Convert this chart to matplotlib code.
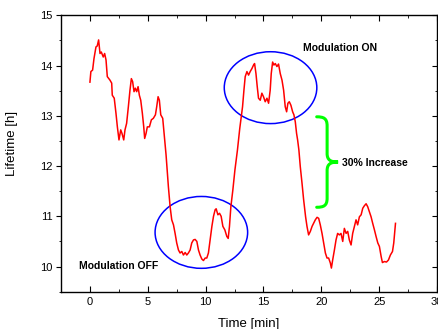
import matplotlib
matplotlib.use('Agg')
import matplotlib.pyplot as plt
from matplotlib.patches import Ellipse, PathPatch
from matplotlib.path import Path
from matplotlib.ticker import MultipleLocator

plt.rcParams['font.family'] = ['Liberation Sans', 'DejaVu Sans']

# lifetime trace
time_min = [0.0, 0.08, 0.23, 0.35, 0.52, 0.63, 0.75, 0.87, 0.98, 1.15, 1.27, 1.39,
            1.5, 1.73, 1.88, 1.93, 2.1, 2.25, 2.37, 2.51, 2.66, 2.77, 2.92, 3.03,
            3.17, 3.32, 3.46, 3.58, 3.69, 3.81, 3.92, 4.04, 4.16, 4.27, 4.39, 4.53,
            4.65, 4.73, 4.85, 4.96, 5.14, 5.31, 5.48, 5.66, 5.77, 5.89, 6.0, 6.12,
            6.29, 6.41, 6.58, 6.78, 6.93, 7.07, 7.22, 7.36, 7.5, 7.65, 7.79, 7.94,
            8.08, 8.23, 8.37, 8.51, 8.66, 8.8, 8.95, 9.09, 9.24, 9.38, 9.52, 9.67,
            9.81, 9.96, 10.1, 10.24, 10.39, 10.54, 10.68, 10.82, 10.91, 11.06, 11.2,
            11.34, 11.49, 11.66, 11.83, 11.95, 12.06, 12.18, 12.35, 12.53, 12.75,
            12.95, 13.19, 13.31, 13.42, 13.57, 13.71, 13.85, 14.0, 14.14, 14.23,
            14.35, 14.46, 14.57, 14.72, 14.86, 15.0, 15.15, 15.3, 15.44, 15.58,
            15.67, 15.79, 15.9, 16.02, 16.16, 16.3, 16.45, 16.6, 16.74, 16.88, 17.0,
            17.11, 17.23, 17.37, 17.52, 17.63, 17.75, 17.86, 17.95, 18.06, 18.18,
            18.33, 18.47, 18.64, 18.76, 18.9, 19.05, 19.2, 19.33, 19.48, 19.63,
            19.77, 19.91, 20.06, 20.2, 20.35, 20.49, 20.63, 20.78, 20.87, 20.98,
            21.13, 21.27, 21.41, 21.56, 21.7, 21.85, 21.99, 22.14, 22.28, 22.42,
            22.57, 22.71, 22.86, 23.0, 23.14, 23.29, 23.44, 23.58, 23.72, 23.87,
            24.01, 24.16, 24.3, 24.44, 24.59, 24.73, 24.88, 25.02, 25.17, 25.28,
            25.45, 25.63, 25.8, 25.97, 26.15, 26.26, 26.41]
lifetime_h = [13.67, 13.88, 13.91, 14.14, 14.37, 14.39, 14.51, 14.24, 14.27, 14.17,
              14.24, 14.11, 13.78, 13.71, 13.65, 13.41, 13.35, 13.05, 12.78, 12.52,
              12.72, 12.65, 12.52, 12.72, 12.85, 13.18, 13.51, 13.74, 13.68, 13.48,
              13.55, 13.48, 13.58, 13.41, 13.31, 13.05, 12.78, 12.55, 12.65, 12.78,
              12.78, 12.92, 12.95, 13.02, 13.18, 13.38, 13.31, 13.02, 12.95, 12.65,
              12.22, 11.59, 11.19, 10.93, 10.83, 10.66, 10.47, 10.33, 10.27, 10.3,
              10.23, 10.28, 10.23, 10.27, 10.33, 10.47, 10.53, 10.54, 10.5, 10.33,
              10.23, 10.15, 10.12, 10.17, 10.17, 10.27, 10.53, 10.8, 11.0, 11.13,
              11.15, 11.03, 11.06, 11.0, 10.8, 10.73, 10.6, 10.56, 10.8, 11.19,
              11.52, 11.92, 12.32, 12.75, 13.18, 13.51, 13.78, 13.88, 13.81, 13.88,
              13.94, 14.01, 14.04, 13.84, 13.58, 13.35, 13.31, 13.45, 13.38, 13.28,
              13.35, 13.25, 13.51, 13.84, 14.07, 14.01, 14.04, 13.98, 14.03, 13.84,
              13.71, 13.51, 13.18, 13.08, 13.25, 13.28, 13.21, 13.08, 13.02, 12.88,
              12.65, 12.52, 12.32, 11.99, 11.66, 11.33, 10.99, 10.8, 10.63, 10.7,
              10.8, 10.86, 10.93, 10.98, 10.96, 10.83, 10.66, 10.47, 10.27, 10.17,
              10.17, 10.07, 9.97, 10.13, 10.33, 10.53, 10.66, 10.63, 10.66, 10.5,
              10.76, 10.66, 10.7, 10.53, 10.43, 10.66, 10.8, 10.93, 10.83, 10.99,
              11.03, 11.16, 11.21, 11.25, 11.19, 11.09, 10.99, 10.86, 10.73, 10.6,
              10.47, 10.4, 10.2, 10.08, 10.1, 10.09, 10.13, 10.23, 10.3, 10.47, 10.86]

# ellipse centres (time, lifetime) and the brace span
off_centre = (9.63, 10.68)
on_centre = (15.61, 13.56)
brace_top, brace_bottom = 12.98, 11.18

fig = plt.figure(figsize=(4.39, 3.29), dpi=100)
ax = fig.add_axes([0.139, 0.1134, 0.8565, 0.8401])

ax.plot(time_min, lifetime_h, color='#ff0000', lw=1.1)

for c in (off_centre, on_centre):
    ax.add_patch(Ellipse(c, 8.0, 1.43, fill=False, edgecolor='#0000ff', lw=1.1))

# curly brace
xs, xm, xp = 19.6, 20.5, 21.45
ym = (brace_top + brace_bottom) / 2
verts = [(xs, brace_top), (20.2, brace_top), (xm, brace_top - 0.03), (xm, brace_top - 0.18),
         (xm, ym + 0.17),
         (xm, ym + 0.04), (20.8, ym), (xp, ym),
         (20.8, ym), (xm, ym - 0.04), (xm, ym - 0.17),
         (xm, brace_bottom + 0.18),
         (xm, brace_bottom + 0.03), (20.2, brace_bottom), (xs, brace_bottom)]
codes = [Path.MOVETO, Path.CURVE4, Path.CURVE4, Path.CURVE4,
         Path.LINETO,
         Path.CURVE4, Path.CURVE4, Path.CURVE4,
         Path.CURVE4, Path.CURVE4, Path.CURVE4,
         Path.LINETO,
         Path.CURVE4, Path.CURVE4, Path.CURVE4]
ax.add_patch(PathPatch(Path(verts, codes), fill=False, edgecolor='#00ff00', lw=2.2,
                       capstyle='round'))

ax.text(21.65, 14.35, 'Modulation ON', fontsize=7.5, fontweight='bold',
        ha='center', va='center')
ax.text(21.8, 12.07, '30% Increase', fontsize=7.5, fontweight='bold',
        ha='left', va='center')
ax.text(-0.95, 10.01, 'Modulation OFF', fontsize=7.5, fontweight='bold',
        ha='left', va='center')

ax.set_xlim(-2.5, 30)
ax.set_ylim(9.5, 15)
ax.xaxis.set_major_locator(MultipleLocator(5))
ax.xaxis.set_minor_locator(MultipleLocator(2.5))
ax.yaxis.set_major_locator(MultipleLocator(1))
ax.yaxis.set_minor_locator(MultipleLocator(0.5))

ax.tick_params(axis='x', which='both', direction='in', top=True, labelsize=8, pad=4)
ax.tick_params(axis='x', which='major', length=4)
ax.tick_params(axis='x', which='minor', length=2)
ax.tick_params(axis='y', which='both', direction='out', labelsize=8, pad=2.5)
ax.tick_params(axis='y', which='major', length=3.5)
ax.tick_params(axis='y', which='minor', length=1.8)
ax.tick_params(axis='y', which='both', right=True)
for t in ax.yaxis.get_major_ticks() + ax.yaxis.get_minor_ticks():
    t.tick2line.set_marker(matplotlib.lines.TICKLEFT)

for s in ax.spines.values():
    s.set_linewidth(1.0)

ax.set_xlabel('Time [min]', fontsize=9.5)
ax.set_ylabel('Lifetime [h]', fontsize=9.5)
ax.xaxis.set_label_coords(0.5, -0.095)
ax.yaxis.set_label_coords(-0.114, 0.537)

fig.savefig('out.png', dpi=100)
